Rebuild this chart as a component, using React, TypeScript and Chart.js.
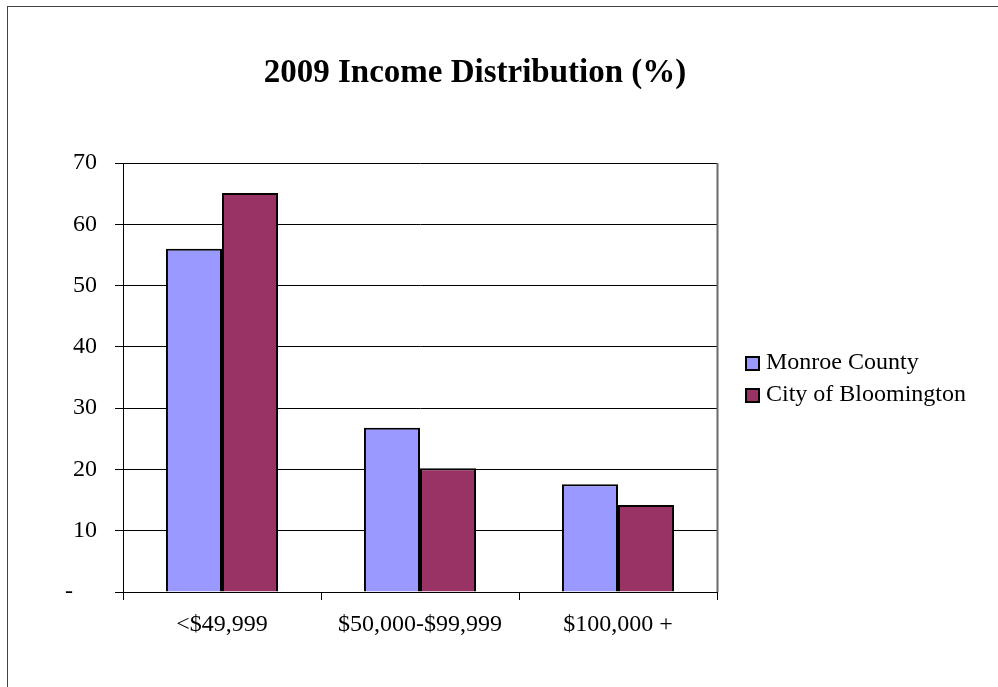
import React, { useEffect, useRef } from 'react';
import { Chart, registerables } from 'chart.js';

Chart.register(...registerables);

// ---- data ----
const categories = ['<$49,999', '$50,000-$99,999', '$100,000 +'];
const seriesNames = ['Monroe County', 'City of Bloomington'];
const monroeCounty = [56.0, 26.8, 17.6];
const cityOfBloomington = [65.1, 20.2, 14.2];
const seriesColors = ['#9999FF', '#993366'];
const yMin = 0;
const yMax = 70;
const yStep = 10;
const zeroTickLabel = '-    ';
const chartTitle = '2009 Income Distribution (%)';

const FONT = '"Liberation Serif", "Times New Roman", serif';

const decorPlugin = {
  id: 'decor',
  afterDraw(chart: any) {
    const { ctx, chartArea } = chart;
    ctx.save();
    // plot area right border
    ctx.strokeStyle = '#6a6a6a';
    ctx.lineWidth = 2;
    ctx.beginPath();
    ctx.moveTo(chartArea.right + 0.5, chartArea.top);
    ctx.lineTo(chartArea.right + 0.5, chartArea.bottom);
    ctx.stroke();

    // title
    ctx.fillStyle = '#000';
    ctx.font = `bold 33px ${FONT}`;
    ctx.textAlign = 'center';
    ctx.textBaseline = 'alphabetic';
    ctx.fillText(chartTitle, 475, 82);

    // legend
    const ds = chart.data.datasets;
    const rowH = 32;
    const box = 15;
    const blockH = rowH * (ds.length - 1) + box;
    const top0 = (chartArea.top + chartArea.bottom) / 2 + 2 - blockH / 2;
    const bx = chartArea.right + 28;
    ctx.font = `24px ${FONT}`;
    ctx.textAlign = 'left';
    ds.forEach((d: any, i: number) => {
      const y = Math.round(top0 + i * rowH);
      ctx.fillStyle = d.backgroundColor;
      ctx.fillRect(bx, y, box, box);
      ctx.strokeStyle = '#000';
      ctx.lineWidth = 2;
      ctx.strokeRect(bx + 1, y + 1, box - 2, box - 2);
      ctx.fillStyle = '#000';
      ctx.fillText(d.label, bx + box + 6, y + 13);
    });
    ctx.restore();
  },
};

export default function App() {
  const ref = useRef<HTMLCanvasElement | null>(null);

  useEffect(() => {
    if (!ref.current) return;
    const chart = new Chart(ref.current, {
      type: 'bar',
      data: {
        labels: categories,
        datasets: [
          {
            label: seriesNames[0],
            data: monroeCounty,
            backgroundColor: seriesColors[0],
            borderColor: '#000',
            borderWidth: 2,
            categoryPercentage: 0.566,
            barPercentage: 1,
          },
          {
            label: seriesNames[1],
            data: cityOfBloomington,
            backgroundColor: seriesColors[1],
            borderColor: '#000',
            borderWidth: 2,
            categoryPercentage: 0.566,
            barPercentage: 1,
          },
        ],
      },
      options: {
        responsive: false,
        animation: false,
        devicePixelRatio: 1,
        layout: { padding: { top: 163, right: 281, left: 0, bottom: 0 } },
        plugins: {
          legend: { display: false },
          title: { display: false },
          tooltip: { enabled: false },
        },
        scales: {
          x: {
            afterFit: (axis: any) => {
              axis.height = 95;
            },
            grid: {
              display: true,
              drawOnChartArea: false,
              drawTicks: true,
              tickLength: 8,
              offset: true,
              color: '#000',
              lineWidth: 1,
            },
            border: { display: true, color: '#000', width: 1 },
            ticks: {
              color: '#000',
              font: { family: FONT, size: 24 },
              padding: 10,
              maxRotation: 0,
              autoSkip: false,
            },
          },
          y: {
            min: yMin,
            max: yMax,
            afterFit: (axis: any) => {
              axis.width = 123;
            },
            grid: {
              color: '#000',
              lineWidth: 1,
              tickLength: 8,
              drawTicks: true,
            },
            border: { display: true, color: '#000', width: 1 },
            ticks: {
              stepSize: yStep,
              color: '#000',
              font: { family: FONT, size: 24 },
              padding: 18,
              callback: (v: any) => (Number(v) === 0 ? zeroTickLabel : String(v)),
            },
          },
        },
      },
      plugins: [decorPlugin],
    });
    return () => chart.destroy();
  }, []);

  return (
    <div
      style={{
        position: 'fixed',
        left: 0,
        top: 0,
        width: 998,
        height: 687,
        overflow: 'hidden',
        background: '#fff',
      }}
    >
      <div
        style={{
          position: 'absolute',
          left: 7,
          top: 6,
          width: 1200,
          height: 900,
          borderLeft: '1px solid #444',
          borderTop: '1px solid #444',
        }}
      />
      <canvas
        ref={ref}
        width={998}
        height={687}
        style={{ position: 'absolute', left: 0, top: 0 }}
      />
    </div>
  );
}
